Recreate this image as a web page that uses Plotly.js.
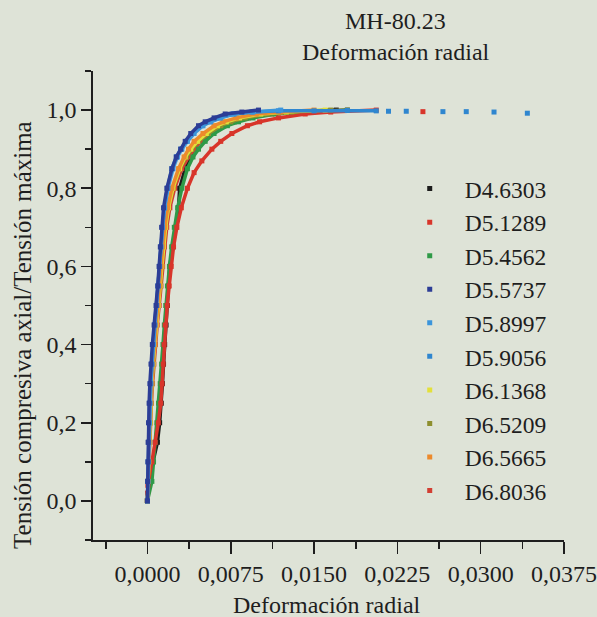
<!DOCTYPE html>
<html>
<head>
<meta charset="utf-8">
<script src="https://cdn.plot.ly/plotly-3.0.1.min.js"></script>
<style>html,body{margin:0;padding:0;background:#dee3d7;}#chart{width:597px;height:617px;}</style>
</head>
<body>
<div id="chart"></div>
<script>
// ---- Data ----
const seriesNames = ["D4.6303","D5.1289","D5.4562","D5.5737","D5.8997","D5.9056","D6.1368","D6.5209","D6.5665","D6.8036"];
const seriesColors = ["#1c1c1c","#d8352a","#2f9a47","#2c3d96","#3b95db","#2f86cf","#e3e03a","#8d8f2e","#ec8a2c","#d23f33"];

// common stress levels (normalized) for most curves
const yLevels = [0,0.05,0.10,0.15,0.20,0.25,0.30,0.35,0.40,0.45,0.50,0.55,0.60,0.65,0.70,0.75,0.80,0.85,0.88,0.90,0.92,0.94,0.96,0.97,0.98,0.99,0.995,1.0];

const x_D4_6303 = [0,0.00020,0.00050,0.00090,0.00110,0.00125,0.00135,0.00145,0.00155,0.00168,0.00180,0.00190,0.00200,0.00230,0.00255,0.00280,0.00290,0.00340,0.00380,0.00420,0.00470,0.00550,0.00660,0.00750,0.00880,0.01050,0.01300,0.01700];
const y_D4_6303 = yLevels;

const x_D5_1289 = [0,0.00001,0.00004,0.00040,0.00070,0.00098,0.00120,0.00132,0.00142,0.00150,0.00160,0.00178,0.00196,0.00214,0.00235,0.00265,0.00305,0.00360,0.00420,0.00490,0.00580,0.00660,0.00760,0.00900,0.01010,0.01180,0.01420,0.01650,0.02060];
const y_D5_1289 = [0,0.02,0.04,0.10,0.15,0.20,0.25,0.30,0.35,0.40,0.45,0.50,0.55,0.60,0.65,0.70,0.75,0.80,0.84,0.87,0.90,0.92,0.94,0.96,0.97,0.98,0.99,0.995,1.0];
const tailX_D5_1289 = [0.0248];
const tailY_D5_1289 = [0.996];

const x_D5_4562 = [0,0.00040,0.00055,0.00070,0.00085,0.00100,0.00115,0.00128,0.00140,0.00152,0.00165,0.00180,0.00198,0.00218,0.00242,0.00272,0.00310,0.00360,0.00410,0.00460,0.00520,0.00600,0.00720,0.00820,0.00950,0.01150,0.01400,0.01800];
const y_D5_4562 = yLevels;

const x_D5_5737 = [0,0.00002,0.00004,0.00006,0.00010,0.00015,0.00022,0.00032,0.00044,0.00060,0.00078,0.00093,0.00105,0.00116,0.00128,0.00145,0.00175,0.00220,0.00260,0.00300,0.00340,0.00390,0.00460,0.00520,0.00600,0.00700,0.00850,0.01000];
const y_D5_5737 = yLevels;

const x_D5_8997 = [0,0.00004,0.00008,0.00012,0.00017,0.00023,0.00031,0.00041,0.00054,0.00068,0.00084,0.00098,0.00110,0.00122,0.00136,0.00155,0.00185,0.00230,0.00270,0.00310,0.00360,0.00420,0.00500,0.00570,0.00660,0.00780,0.00950,0.01200];
const y_D5_8997 = yLevels;

const x_D5_9056 = [0,0.00003,0.00007,0.00010,0.00015,0.00020,0.00028,0.00038,0.00050,0.00064,0.00080,0.00095,0.00108,0.00120,0.00134,0.00152,0.00180,0.00220,0.00260,0.00300,0.00350,0.00410,0.00490,0.00560,0.00650,0.00770,0.00940,0.01180,0.01500,0.01800,0.02060];
const y_D5_9056 = [0,0.05,0.10,0.15,0.20,0.25,0.30,0.35,0.40,0.45,0.50,0.55,0.60,0.65,0.70,0.75,0.80,0.85,0.88,0.90,0.92,0.94,0.96,0.97,0.98,0.99,0.995,0.998,0.998,0.999,0.998];
const tailX_D5_9056 = [0.0217,0.0233,0.0266,0.0287,0.0312,0.0342];
const tailY_D5_9056 = [0.997,0.997,0.996,0.996,0.995,0.992];

const x_D6_1368 = [0,0.00006,0.00012,0.00018,0.00024,0.00031,0.00040,0.00052,0.00066,0.00082,0.00100,0.00115,0.00130,0.00145,0.00164,0.00190,0.00230,0.00290,0.00340,0.00390,0.00450,0.00530,0.00630,0.00710,0.00830,0.01020,0.01250,0.01600];
const y_D6_1368 = yLevels;

const x_D6_5209 = [0,0.00005,0.00011,0.00017,0.00023,0.00030,0.00039,0.00050,0.00064,0.00080,0.00098,0.00113,0.00128,0.00143,0.00162,0.00188,0.00230,0.00290,0.00350,0.00400,0.00460,0.00550,0.00660,0.00750,0.00880,0.01080,0.01300,0.01650];
const y_D6_5209 = yLevels;

const x_D6_5665 = [0,0.00005,0.00010,0.00015,0.00020,0.00027,0.00036,0.00048,0.00062,0.00078,0.00095,0.00110,0.00124,0.00138,0.00156,0.00182,0.00220,0.00280,0.00330,0.00370,0.00420,0.00500,0.00600,0.00680,0.00800,0.00980,0.01200,0.01500];
const y_D6_5665 = yLevels;

const x_D6_8036 = [0,0.00006,0.00014,0.00021,0.00028,0.00036,0.00046,0.00058,0.00072,0.00088,0.00106,0.00122,0.00137,0.00153,0.00174,0.00202,0.00245,0.00310,0.00370,0.00420,0.00480,0.00570,0.00690,0.00780,0.00910,0.01120,0.01380,0.01800];
const y_D6_8036 = yLevels;

const xTickVals = [0,0.0075,0.0150,0.0225,0.0300,0.0375];
const yTickVals = [0,0.2,0.4,0.6,0.8,1.0];

// ---- Build traces ----
const seriesX = [x_D4_6303,x_D5_1289,x_D5_4562,x_D5_5737,x_D5_8997,x_D5_9056,x_D6_1368,x_D6_5209,x_D6_5665,x_D6_8036];
const seriesY = [y_D4_6303,y_D5_1289,y_D5_4562,y_D5_5737,y_D5_8997,y_D5_9056,y_D6_1368,y_D6_5209,y_D6_5665,y_D6_8036];
const tails = {1:[tailX_D5_1289,tailY_D5_1289], 5:[tailX_D5_9056,tailY_D5_9056]};
// drawing order (bottom to top); legend order kept via legendrank
const drawOrder = [0,9,2,1,7,6,8,5,4,3];

const traces = [];
drawOrder.forEach(function(i){
  traces.push({
    x: seriesX[i], y: seriesY[i], type:'scatter', mode:'lines',
    line:{color:seriesColors[i], width:3.5}, showlegend:false,
    legendgroup:seriesNames[i], hoverinfo:'skip'
  });
  let mx = seriesX[i].slice(), my = seriesY[i].slice();
  if (tails[i]) { mx = mx.concat(tails[i][0]); my = my.concat(tails[i][1]); }
  traces.push({
    x: mx, y: my, type:'scatter', mode:'markers', name: seriesNames[i],
    marker:{symbol:'square', size:5, color:seriesColors[i]},
    legendgroup:seriesNames[i], legendrank: i+1
  });
});

const ink = '#1e1e1e';
const fontFam = 'Liberation Serif, Times New Roman, serif';
const fs = 24;

const layout = {
  width:597, height:617,
  paper_bgcolor:'#dee3d7', plot_bgcolor:'#dee3d7',
  margin:{l:93, r:33, t:71, b:77, pad:0},
  separators:',.',
  font:{family:fontFam, size:fs, color:ink},
  showlegend:true,
  legend:{x:0.6406, xanchor:'left', y:0.7957, yanchor:'top', bgcolor:'rgba(0,0,0,0)',
          font:{family:fontFam, size:23.5, color:ink}, itemwidth:60, tracegroupgap:0},
  xaxis:{range:[-0.0049,0.0375], showgrid:false, zeroline:false, showline:true,
         linecolor:ink, linewidth:1.6, ticks:'outside', ticklen:12, tickwidth:1.6, tickcolor:ink,
         tickmode:'array', tickvals:xTickVals, tickformat:'.4f',
         minor:{dtick:0.00375, tick0:0, ticks:'outside', ticklen:7, tickwidth:1.6, tickcolor:ink, showgrid:false},
         tickfont:{family:fontFam, size:fs, color:ink}},
  yaxis:{range:[-0.1,1.1], showgrid:false, zeroline:false, showline:true,
         linecolor:ink, linewidth:1.6, ticks:'outside', ticklen:10, tickwidth:1.6, tickcolor:ink,
         tickmode:'array', tickvals:yTickVals, tickformat:'.1f',
         minor:{dtick:0.1, tick0:0, ticks:'outside', ticklen:6, tickwidth:1.6, tickcolor:ink, showgrid:false},
         tickfont:{family:fontFam, size:fs, color:ink}},
  annotations:[
    {text:'MH-80.23', xref:'paper', yref:'paper', x:0.643, y:1.106, xanchor:'center', yanchor:'middle', showarrow:false, font:{family:fontFam,size:fs,color:ink}},
    {text:'Deformación radial', xref:'paper', yref:'paper', x:0.643, y:1.040, xanchor:'center', yanchor:'middle', showarrow:false, font:{family:fontFam,size:fs,color:ink}},
    {text:'Deformación radial', xref:'paper', yref:'paper', x:0.497, y:-0.139, xanchor:'center', yanchor:'middle', showarrow:false, font:{family:fontFam,size:fs,color:ink}},
    {text:'Tensión compresiva axial/Tensión máxima', xref:'paper', yref:'paper', x:-0.151, y:0.437, xanchor:'center', yanchor:'middle', textangle:-90, showarrow:false, font:{family:fontFam,size:25,color:ink}}
  ]
};

Plotly.newPlot('chart', traces, layout, {displayModeBar:false, staticPlot:true});
</script>
</body>
</html>
